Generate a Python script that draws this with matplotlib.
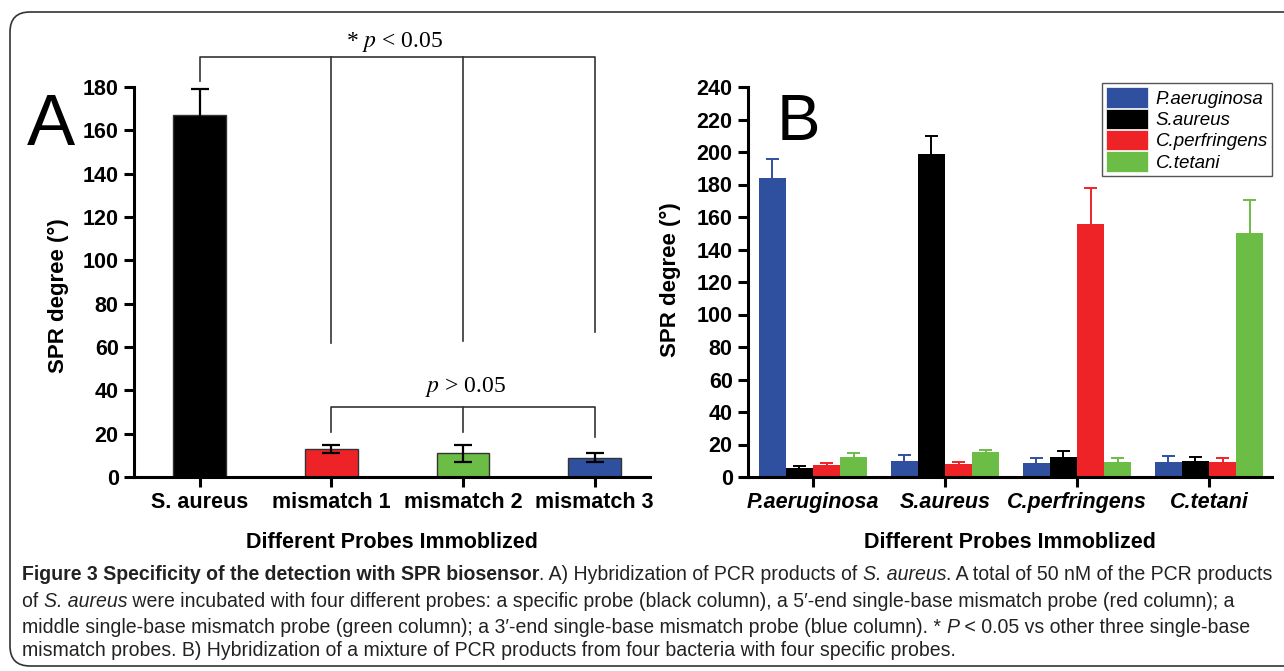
import matplotlib
matplotlib.use('Agg')
import matplotlib.pyplot as plt
import numpy as np
from matplotlib.patches import FancyBboxPatch, Patch
from matplotlib.transforms import IdentityTransform

plt.rcParams['font.family'] = 'Liberation Sans'
plt.rcParams['mathtext.fontset'] = 'stix'

W, H = 1284, 671

BLUE = '#2f4f9f'
RED = '#ee2327'
GREEN = '#6bbd45'
BLACK = '#000000'

# panel A data
a_labels = ['S. aureus', 'mismatch 1', 'mismatch 2', 'mismatch 3']
a_values = [167, 13, 11, 9]
a_errors = [12, 2, 4, 2]
a_colors = [BLACK, RED, GREEN, BLUE]

# panel B data (probe groups x target series)
b_groups = ['P.aeruginosa', 'S.aureus', 'C.perfringens', 'C.tetani']
b_series = ['P.aeruginosa', 'S.aureus', 'C.perfringens', 'C.tetani']
b_pa = [184, 9.7, 8.6, 9.3]
b_pa_err = [12, 3.8, 3.0, 3.5]
b_sa = [5.7, 199, 12.6, 9.7]
b_sa_err = [1.3, 11, 3.2, 2.9]
b_cp = [7.4, 7.8, 156, 9.5]
b_cp_err = [1.4, 1.7, 21.6, 1.9]
b_ct = [12.6, 15.2, 9.5, 150.4]
b_ct_err = [2.4, 1.4, 1.9, 20.1]
b_colors = [BLUE, BLACK, RED, GREEN]


def fx(px):
    return px / W


def fy(py):
    return 1 - py / H


def style_axes(ax):
    for s in ['top', 'right']:
        ax.spines[s].set_visible(False)
    for s in ['left', 'bottom']:
        ax.spines[s].set_linewidth(2.2)
    ax.tick_params(axis='both', length=7, width=2.2, direction='out', pad=4)
    for lab in ax.get_yticklabels():
        lab.set_fontsize(15.5)
        lab.set_fontweight('bold')


fig = plt.figure(figsize=(W / 100, H / 100), dpi=100)

# rounded frame around figure + caption
frame = FancyBboxPatch((10, 5), 1320, 654, boxstyle='round,pad=0,rounding_size=20',
                       transform=IdentityTransform(), fill=False, edgecolor='#333333', linewidth=1.2)
fig.add_artist(frame)

# ---------------- panel A ----------------
axA = fig.add_axes([fx(134), fy(477), fx(650) - fx(134), fy(87) - fy(477)])
xa = np.arange(len(a_labels))
axA.bar(xa, a_values, width=0.4, color=a_colors, edgecolor='#333333', linewidth=1, zorder=2)
axA.errorbar(xa, a_values, yerr=a_errors, fmt='none', ecolor='black', elinewidth=1.6,
             capsize=6.5, capthick=1.6, zorder=3)
axA.set_xlim(-0.5, 3.42)
axA.set_ylim(0, 180)
axA.set_yticks(range(0, 181, 20))
axA.set_xticks(xa)
axA.set_xticklabels(a_labels, fontsize=15.5, fontweight='bold')
style_axes(axA)

# significance brackets
bk = dict(color='#333333', lw=1.2, clip_on=False, zorder=1)
axA.plot([0, 0, 3, 3], [182.8, 194, 194, 67], **bk)
axA.plot([1, 1], [194, 62], **bk)
axA.plot([2, 2], [194, 63], **bk)
axA.plot([1, 1, 3, 3], [21, 32.4, 32.4, 18.6], **bk)
axA.plot([2, 2], [32.4, 20.9], **bk)
axA.text(1.48, 201, '* $p$ < 0.05', family='Liberation Serif', fontsize=17,
         ha='center', va='center', clip_on=False)
axA.text(2.02, 41.5, '$p$ > 0.05', family='Liberation Serif', fontsize=17,
         ha='center', va='center')

fig.text(fx(27), fy(145), 'A', fontsize=52, ha='left', va='baseline')
fig.text(fx(58), fy(296), 'SPR degree (°)', fontsize=16, fontweight='bold',
         rotation=90, ha='center', va='center')
fig.text(fx(392), fy(548), 'Different Probes Immoblized', fontsize=15.5,
         fontweight='bold', ha='center', va='baseline')

# ---------------- panel B ----------------
axB = fig.add_axes([fx(748), fy(477), fx(1272) - fx(748), fy(87) - fy(477)])
xb = np.arange(len(b_groups))
bw = 0.205
cw = 0.05
b_vals = [b_pa, b_sa, b_cp, b_ct]
b_errs = [b_pa_err, b_sa_err, b_cp_err, b_ct_err]
for i, (vals, errs, col, name) in enumerate(zip(b_vals, b_errs, b_colors, b_series)):
    pos = xb + (i - 1.5) * bw
    vals = np.array(vals)
    errs = np.array(errs)
    axB.bar(pos, vals, width=bw, color=col, linewidth=0, label=name, zorder=2)
    # upper-only error bars
    axB.vlines(pos, vals, vals + errs, colors=col, lw=1.4, zorder=1)
    axB.hlines(vals + errs, pos - cw, pos + cw, colors=col, lw=1.4, zorder=1)
axB.set_xlim((748 - 813) / 132, (1272 - 813) / 132)
axB.set_ylim(0, 240)
axB.set_yticks(range(0, 241, 20))
axB.set_xticks(xb)
axB.set_xticklabels(b_groups, fontsize=15.5, fontweight='bold', fontstyle='italic')
style_axes(axB)

handles = [Patch(facecolor=c, edgecolor='white', linewidth=0.5) for c in b_colors]
leg = axB.legend(handles, b_series, loc='upper right',
                 bbox_to_anchor=(fx(1272), fy(83)), bbox_transform=fig.transFigure,
                 prop=dict(family='Liberation Sans', style='italic', size=13.5),
                 handlelength=2.25, handleheight=1.3, labelspacing=0.05,
                 handletextpad=0.4, borderpad=0.22, borderaxespad=0,
                 fancybox=False, edgecolor='#555555', framealpha=1)
leg.get_frame().set_linewidth(1)

fig.text(fx(777), fy(140), 'B', fontsize=47, ha='left', va='baseline')
fig.text(fx(670), fy(280), 'SPR degree (°)', fontsize=16, fontweight='bold',
         rotation=90, ha='center', va='center')
fig.text(fx(1010), fy(548), 'Different Probes Immoblized', fontsize=15.5,
         fontweight='bold', ha='center', va='baseline')

# ---------------- caption ----------------
cap_lines = [
    [('Figure 3 Specificity of the detection with SPR biosensor', 'bold'),
     ('. A) Hybridization of PCR products of ', 'normal'), ('S. aureus', 'italic'),
     ('. A total of 50 nM of the PCR products', 'normal')],
    [('of ', 'normal'), ('S. aureus', 'italic'),
     (' were incubated with four different probes: a specific probe (black column), a 5\u2032-end single-base mismatch probe (red column); a', 'normal')],
    [('middle single-base mismatch probe (green column); a 3\u2032-end single-base mismatch probe (blue column). * ', 'normal'),
     ('P', 'italic'), (' < 0.05 vs other three single-base', 'normal')],
    [('mismatch probes. B) Hybridization of a mixture of PCR products from four bacteria with four specific probes.', 'normal')],
]
cap_y = [580, 607, 633, 656]
cap_font = 'Liberation Sans'

renderer = fig.canvas.get_renderer()


def draw_line(pieces, x0, ybase, size, draw=True):
    x = x0
    arts = []
    for txt, st in pieces:
        kw = dict(fontsize=size, family=cap_font, va='baseline', ha='left', color='#222222')
        if st == 'bold':
            kw['fontweight'] = 'bold'
        elif st == 'italic':
            kw['fontstyle'] = 'italic'
        t = fig.text(fx(x), fy(ybase), txt, **kw)
        w = t.get_window_extent(renderer).width
        arts.append(t)
        x += w
    if not draw:
        for t in arts:
            t.remove()
    return x - x0


trial = draw_line(cap_lines[0], 22, cap_y[0], 12, draw=False)
cap_size = 12 * (1275 - 22) / trial
for pieces, yb in zip(cap_lines, cap_y):
    draw_line(pieces, 22, yb, cap_size)

fig.savefig('out.png', dpi=100)
